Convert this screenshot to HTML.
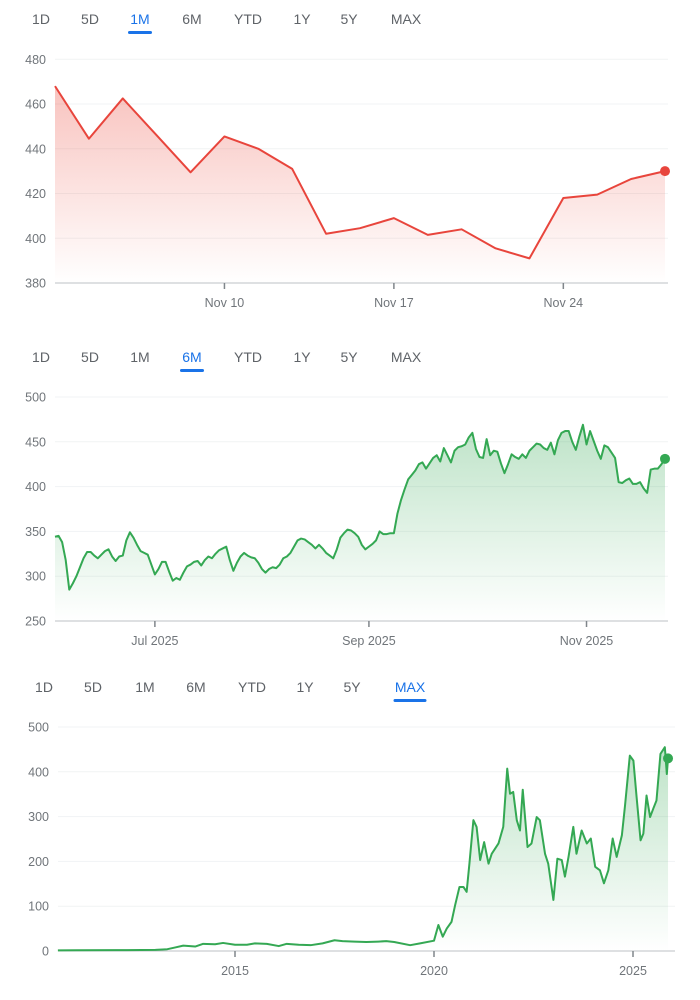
<!DOCTYPE html>
<html><head><meta charset="utf-8">
<style>
html,body{margin:0;padding:0;background:#fff;}
body{width:700px;height:1000px;position:relative;overflow:hidden;font-family:"Liberation Sans",Arial,sans-serif;}
svg{position:absolute;left:0;top:0;}
.tab{font-size:14px;fill:#5f6368;cursor:pointer;}
.tab.active{fill:#1a73e8;}
.ylab{font-size:12.5px;fill:#70757a;text-anchor:end;}
.xlab{font-size:12.5px;fill:#70757a;text-anchor:middle;}
</style></head>
<body>
<svg id="svg" width="700" height="1000">
<defs>
<linearGradient id="gRed" x1="0" y1="0" x2="0" y2="1">
<stop offset="0" stop-color="#ea4335" stop-opacity="0.32"/><stop offset="1" stop-color="#ea4335" stop-opacity="0"/></linearGradient>
<linearGradient id="gGreen" x1="0" y1="0" x2="0" y2="1">
<stop offset="0" stop-color="#34a853" stop-opacity="0.32"/><stop offset="1" stop-color="#34a853" stop-opacity="0"/></linearGradient>
</defs>
</svg>
<script>
// ---- Chart 1 (1M) data ----
const c1Values = [468,444.5,462.5,446,429.5,445.5,440,431,402,404.5,409,401.5,404,395.5,391,418,419.5,426.5,430];
const c1TickIdx = [5,10,15];
const c1TickLabels = ["Nov 10","Nov 17","Nov 24"];
const c1YTicks = [380,400,420,440,460,480];

// ---- Chart 2 (6M) data ----
const c2Values = [344,345,338,318,285,292,300,310,320,
327,327,323,320,324,328,330,322,317,
322,323,340,349,343,335,328,326,
324,313,302,308,316,316,305,295,
298,296,304,311,313,316,317,312,318,
322,320,325,329,331,333,318,306,
315,322,326,323,321,320,315,308,304,308,
310,309,313,320,322,326,333,340,342,341,
338,335,331,335,331,326,323,320,330,
343,348,352,351,348,344,335,330,333,336,
340,350,347,347,348,348,370,385,397,408,413,418,
425,427,420,426,432,435,428,443,435,427,440,
444,445,447,455,460,442,433,432,453,435,440,
439,426,415,425,436,433,431,436,432,440,444,448,
447,443,441,449,436,452,460,462,462,450,441,
456,469,447,462,451,440,431,446,444,438,
432,405,404,407,409,403,403,405,398,393,
419,420,420,425,431];
const c2TickIdx = [28,88,149];
const c2TickLabels = ["Jul 2025","Sep 2025","Nov 2025"];
const c2YTicks = [250,300,350,400,450,500];

// ---- Chart 3 (MAX) data ----
const c3Times = [2010.55,2011,2012,2013,2013.3,2013.5,2013.7,2014,2014.2,2014.5,2014.7,2015,2015.3,2015.5,2015.8,2016.1,2016.3,2016.6,2016.9,2017.2,2017.5,2017.7,2018,2018.3,2018.6,2018.8,2019,2019.4,2019.65,
2020.0,2020.11,2020.22,2020.32,2020.44,2020.53,2020.64,2020.74,2020.82,2020.89,2020.99,2021.07,2021.16,2021.26,2021.37,2021.45,2021.62,2021.74,2021.84,2021.91,2021.99,2022.08,2022.16,2022.23,2022.35,2022.45,2022.58,2022.66,2022.79,2022.87,2023.0,2023.10,2023.21,2023.29,2023.38,2023.50,2023.58,2023.71,2023.84,2023.94,2024.05,2024.17,2024.27,2024.38,2024.49,2024.59,2024.72,2024.80,2024.92,2025.01,2025.09,2025.19,2025.26,2025.34,2025.43,2025.51,2025.59,2025.69,2025.80,2025.85,2025.88];
const c3Values = [1.3,1.7,1.9,2.5,4,8,12,10,16,15,18,14,14,17,16,11,16,14,13,17,24,22,21,20,21,22,20,13,17,
23,58,32,50,65,102,143,143,132,195,292,277,203,243,195,217,240,277,407,351,355,292,269,360,232,240,299,292,217,195,114,206,203,166,210,277,217,269,240,251,188,180,151,180,251,210,258,325,436,425,344,247,262,347,299,318,336,440,455,395,430];
const c3TickYears = [2015,2020,2025];
const c3TickLabels = ["2015","2020","2025"];
const c3YTicks = [0,100,200,300,400,500];

const svg = document.getElementById('svg');
const NS = 'http://www.w3.org/2000/svg';
function mk(tag, attrs, parent){ const e=document.createElementNS(NS,tag); for(const k in attrs) e.setAttribute(k,attrs[k]); (parent||svg).appendChild(e); return e; }

const tabNames = ["1D","5D","1M","6M","YTD","1Y","5Y","MAX"];
function tabs(ty, xs, active){
  const g = mk('g',{});
  
  
  tabNames.forEach((t,i)=>{
    const tx = mk('text',{x:xs[i],y:ty,'text-anchor':'middle','class':'tab'+(t===active?' active':'')},g);
    tx.textContent = t;
    
    
    if(t===active){
      const w = t.length*9+6;
      const u = mk('rect',{x:xs[i]-w/2,y:ty+7,width:w,height:3,rx:1.5,fill:'#1a73e8'},g);
      
      
    }
  });
}

function chart(o){
  const g = mk('g',{});
  
  
  const yS = v => o.yBot - (v - o.yMin)/(o.yMax-o.yMin)*(o.yBot-o.yTop);
  o.yTicks.forEach(v=>{
    const y = yS(v);
    if(v!==o.yMin){
      const gl = mk('line',{x1:o.gx0,x2:o.gx1,y1:y,y2:y,stroke:'#f1f3f4','stroke-width':1},g);
      
      
    }
    const t = mk('text',{x:o.labX,y:y+4.5,'class':'ylab'},g);
    t.textContent = v;
    
    
  });
  const base = mk('line',{x1:o.gx0,x2:o.gx1,y1:o.yBot,y2:o.yBot,stroke:'#bdc1c6','stroke-width':1},g);
  
  
  o.xTicks.forEach((xv,i)=>{
    const x = o.xS(xv);
    const tk = mk('line',{x1:x,x2:x,y1:o.yBot,y2:o.yBot+6,stroke:'#80868b','stroke-width':1.5},g);
    
    
    const t = mk('text',{x:x,y:o.yBot+24,'class':'xlab'},g);
    t.textContent = o.xLabels[i];
    
    
  });
  const pts = o.values.map((v,i)=>[o.xS(o.xs(i)), yS(v)]);
  let d = pts.map((p,i)=>(i?'L':'M')+p[0].toFixed(2)+','+p[1].toFixed(2)).join('');
  const area = mk('path',{d:d+'L'+pts[pts.length-1][0].toFixed(2)+','+o.yBot+'L'+pts[0][0].toFixed(2)+','+o.yBot+'Z',fill:o.grad,stroke:'none'},g);
  
  
  const line = mk('path',{d:d,fill:'none',stroke:o.color,'stroke-width':2,'stroke-linejoin':'round'},g);
  
  
  const lp = pts[pts.length-1];
  const dot = mk('circle',{cx:lp[0],cy:lp[1],r:5,fill:o.color},g);
  
  
}

// Chart 1
tabs(24,[41,90,140,192,248,302,349,406],"1M");
chart({name:'chart-1m',values:c1Values,xs:i=>i,xS:i=>55+i*(610/(c1Values.length-1)),
  yMin:380,yMax:480,yTop:59.3,yBot:283,yTicks:c1YTicks,xTicks:c1TickIdx,xLabels:c1TickLabels,
  gx0:55,gx1:668,labX:46,color:'#e8453c',grad:'url(#gRed)'});

// Chart 2
tabs(362,[41,90,140,192,248,302,349,406],"6M");
chart({name:'chart-6m',values:c2Values,xs:i=>i,xS:i=>55+i*(610/(c2Values.length-1)),
  yMin:250,yMax:500,yTop:397,yBot:621,yTicks:c2YTicks,xTicks:c2TickIdx,xLabels:c2TickLabels,
  gx0:55,gx1:668,labX:46,color:'#34a853',grad:'url(#gGreen)'});

// Chart 3
tabs(692,[44,93,145,196,252,305,352,410],"MAX");
chart({name:'chart-max',values:c3Values,xs:i=>c3Times[i],xS:t=>434+(t-2020)*39.8,
  yMin:0,yMax:500,yTop:727,yBot:951,yTicks:c3YTicks,xTicks:c3TickYears,xLabels:c3TickLabels,
  gx0:58,gx1:675,labX:49,color:'#34a853',grad:'url(#gGreen)'});
</script>
</body></html>
